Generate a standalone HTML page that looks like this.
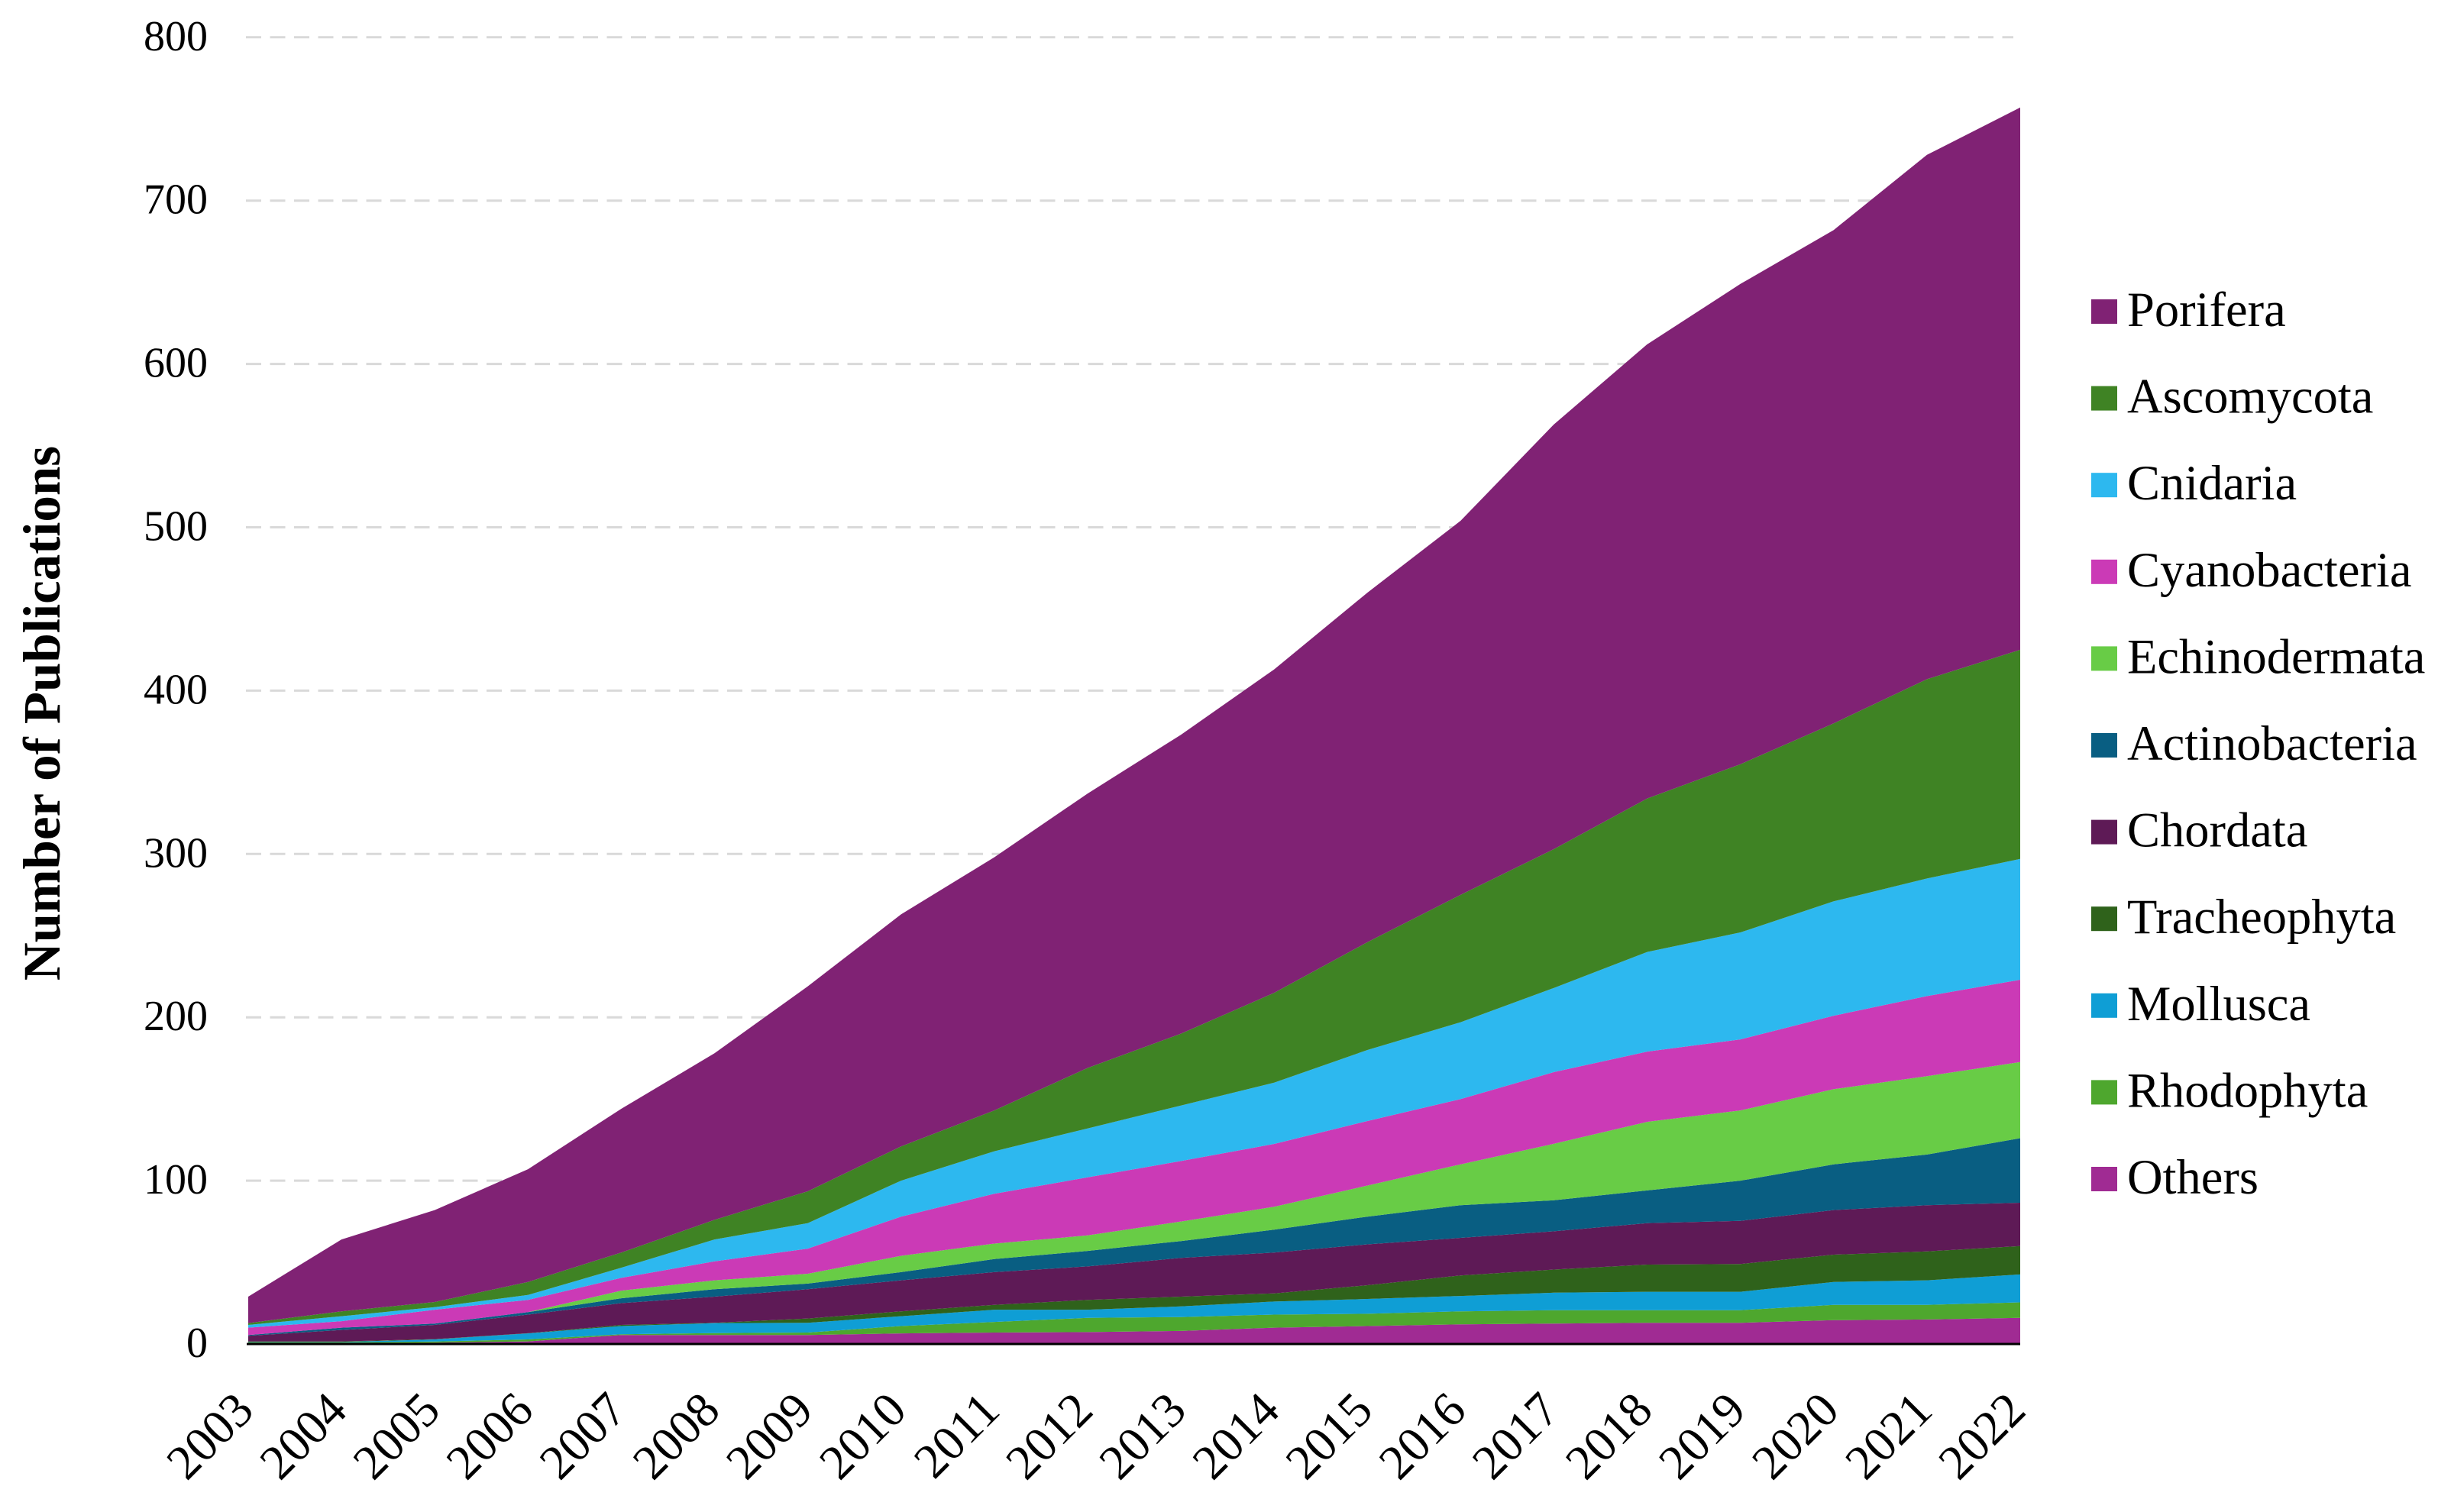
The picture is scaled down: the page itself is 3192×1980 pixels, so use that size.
<!DOCTYPE html>
<html lang="en">
<head>
<meta charset="utf-8">
<title>Number of Publications by Phylum, 2003–2022</title>
<style>
html,body{margin:0;padding:0;background:#fff;}
#chart{display:block;width:3192px;height:1980px;font-family:"Liberation Serif",serif;}
</style>
</head>
<body>
<svg id="chart" xmlns="http://www.w3.org/2000/svg" width="3192" height="1980" viewBox="0 0 3192 1980">
  <g id="grid"></g>
  <g id="areas"></g>
  <line x1="323" y1="1760" x2="2645" y2="1760" stroke="#000" stroke-width="3"></line>
  <g id="yticks"></g>
  <g id="xticks"></g>
  <text transform="translate(78 934) rotate(-90)" text-anchor="middle" font-size="69" font-weight="700" fill="#000">Number of Publications</text>
  <g id="legend"></g>
</svg>
<script>
const years = [2003,2004,2005,2006,2007,2008,2009,2010,2011,2012,2013,2014,2015,2016,2017,2018,2019,2020,2021,2022];
const yTickValues = [0,100,200,300,400,500,600,700,800];

const others = [0.5,0.5,0.8,1.6,5.5,5.5,5.5,6.5,7,7.3,8,10,11,12,12.5,13,13,14.6,15,16];
const rhodophyta = [0.5,0.5,0.7,1.2,0.5,1.2,1.5,4.5,6.5,8.7,8.5,8,7.5,8,8.2,7.7,7.7,9.4,9,9.5];
const mollusca = [0.2,0.2,1.3,3.7,5,6.1,6,6,7.5,5,6.5,8,9.1,9.4,10.7,11.3,11.3,14,15,17.1];
const tracheophyta = [0.4,0.4,0.2,0.1,0.7,0.2,2.6,3,3,6,6,5,8.4,12.6,14.2,16.6,17,16.7,17.7,17.4];
const chordata = [3.4,7,8.7,11.4,13.3,16,17.9,19,20,20.5,23.7,25,25,23,23.4,25.4,26.4,27.3,28.3,26.5];
const actinobacteria = [0.5,1.4,0.8,1.5,3,4.5,3.5,5,8,9.5,10.3,14,17,20,19,20,24.6,28,31,39.5];
const echinodermata = [0,0,0,0,4.7,5.5,6,10,9.5,9.5,12,14,19,25,34.6,42,43,46,48,46.6];
const cyanobacteria = [4.5,4,8.5,7.5,7.8,11.6,15.4,24,30.5,35.5,37,38.5,39.5,40,43.9,43,43.5,45,49,50.4];
const cnidaria = [1.7,3,1.6,3,6.2,13.4,15.6,22,26,30,34,37.5,43.5,47,51.5,61,65.5,70,72,74];
const ascomycota = [1.1,3,3.1,8,9.3,12,19.5,21,25,37,44,55,66,78,85,94,103,109,122,128];
const porifera = [16.2,44,56.3,69,88,102,125.5,142,155,168,183,198,214,229,260,278,294,302,321,332];

// Stack order, bottom to top
const seriesNames = ["Others","Rhodophyta","Mollusca","Tracheophyta","Chordata","Actinobacteria","Echinodermata","Cyanobacteria","Cnidaria","Ascomycota","Porifera"];
const seriesValues = [others,rhodophyta,mollusca,tracheophyta,chordata,actinobacteria,echinodermata,cyanobacteria,cnidaria,ascomycota,porifera];
const seriesColors = ["#a02b93","#4ea72e","#0f9ed5","#2f621b","#5e1a56","#095e82","#68cc46","#cb3ab6","#2db8ef","#3f8324","#802274"];

const SVGNS = "http://www.w3.org/2000/svg";
const plotLeft = 325, plotRight = 2645, plotBottom = 1760, unitPx = 2.139;
function xAt(i){ return plotLeft + (plotRight - plotLeft) * i / (years.length - 1); }
function yAt(v){ return plotBottom - unitPx * v; }
function slug(s){ return s.toLowerCase(); }

const gridG = document.getElementById('grid');
const yTickG = document.getElementById('yticks');
yTickValues.forEach(function(v){
  if (v > 0) {
    const gl = document.createElementNS(SVGNS,'line');
    
    
    gl.setAttribute('x1', 322);
    gl.setAttribute('x2', 2636);
    gl.setAttribute('y1', yAt(v));
    gl.setAttribute('y2', yAt(v));
    gl.setAttribute('stroke', '#d9d9d9');
    gl.setAttribute('stroke-width', '3');
    gl.setAttribute('stroke-dasharray', '20 11.5');
    gridG.appendChild(gl);
  }
  const t = document.createElementNS(SVGNS,'text');
  
  
  t.setAttribute('x', 272);
  t.setAttribute('y', yAt(v) + 17);
  t.setAttribute('text-anchor', 'end');
  t.setAttribute('font-size', '56');
  t.setAttribute('fill', '#000');
  t.textContent = String(v);
  yTickG.appendChild(t);
});

const areasG = document.getElementById('areas');
const running = years.map(function(){ return 0; });
seriesValues.forEach(function(vals, s){
  const lower = running.slice();
  vals.forEach(function(v, i){ running[i] += v; });
  const pts = [];
  running.forEach(function(v, i){ pts.push(xAt(i).toFixed(1) + ',' + yAt(v).toFixed(1)); });
  for (let i = lower.length - 1; i >= 0; i--) { pts.push(xAt(i).toFixed(1) + ',' + yAt(lower[i]).toFixed(1)); }
  const poly = document.createElementNS(SVGNS,'polygon');
  
  
  poly.setAttribute('points', pts.join(' '));
  poly.setAttribute('fill', seriesColors[s]);
  areasG.appendChild(poly);
});

const xTickG = document.getElementById('xticks');
years.forEach(function(yr, i){
  const t = document.createElementNS(SVGNS,'text');
  
  
  t.setAttribute('transform', 'translate(' + (xAt(i) + 10).toFixed(1) + ' 1850) rotate(-45)');
  t.setAttribute('text-anchor', 'end');
  t.setAttribute('font-size', '64');
  t.setAttribute('fill', '#000');
  t.textContent = String(yr);
  xTickG.appendChild(t);
});

const legendG = document.getElementById('legend');
const legendOrder = seriesNames.slice().reverse();
const legendColors = seriesColors.slice().reverse();
legendOrder.forEach(function(name, i){
  const cy = 408 + i * 113.6;
  const g = document.createElementNS(SVGNS,'g');
  
  
  const r = document.createElementNS(SVGNS,'rect');
  
  
  r.setAttribute('x', 2738);
  r.setAttribute('y', cy - 16);
  r.setAttribute('width', 34);
  r.setAttribute('height', 32);
  r.setAttribute('fill', legendColors[i]);
  g.appendChild(r);
  const t = document.createElementNS(SVGNS,'text');
  
  
  t.setAttribute('x', 2785);
  t.setAttribute('y', cy + 19);
  t.setAttribute('font-size', '64.5');
  t.setAttribute('fill', '#000');
  t.textContent = name;
  g.appendChild(t);
  legendG.appendChild(g);
});
</script>
</body>
</html>
